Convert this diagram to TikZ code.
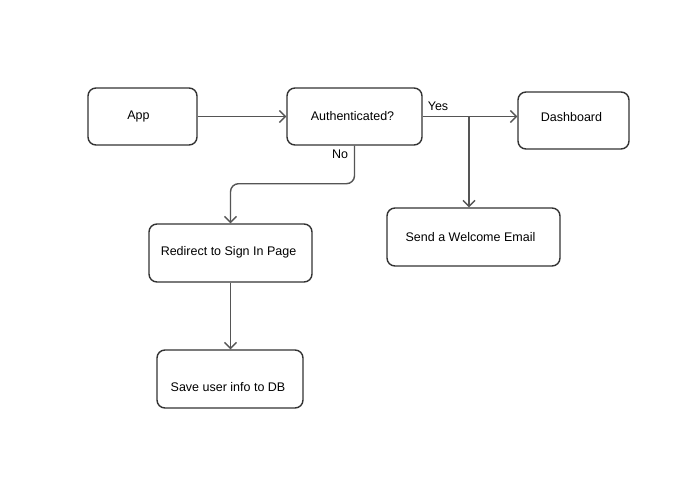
\documentclass[tikz,border=0pt]{standalone}
\usepackage{fontspec}
\setmainfont{Liberation Sans}
\usetikzlibrary{arrows.meta,calc}
\definecolor{boxline}{HTML}{333333}
\definecolor{connline}{HTML}{555555}
\begin{document}
\begin{tikzpicture}[x=1pt,y=-1pt,
  box/.style={draw=boxline, line width=1.4pt, rounded corners=8pt, fill=white,
    inner sep=0pt, font=\fontsize{12.5}{15}\selectfont, text=black},
  conn/.style={draw=connline, line width=1.4pt,
    -{Straight Barb[length=6pt,width=12pt,line width=1.4pt]}},
  lbl/.style={font=\fontsize{12.5}{15}\selectfont, text=black, inner sep=0pt}]
\useasboundingbox[fill=white] (0,0) rectangle (680,485);
\node[box, minimum width=109pt, minimum height=57pt,
  label={[lbl, xshift=-4pt, yshift=0pt]center:App}] (app) at (142.5,116.5) {};
\node[box, minimum width=135pt, minimum height=57pt,
  label={[lbl, xshift=-2pt, yshift=0.5pt]center:Authenticated?}] (auth) at (354.5,116.5) {};
\node[box, minimum width=111pt, minimum height=57pt,
  label={[lbl, xshift=-2pt, yshift=3pt]center:Dashboard}] (dash) at (573.5,120.5) {};
\node[box, minimum width=173pt, minimum height=58pt,
  label={[lbl, xshift=-3pt, yshift=0pt]center:Send a Welcome Email}] (mail) at (473.5,237) {};
\node[box, minimum width=163pt, minimum height=58pt,
  label={[lbl, xshift=-2pt, yshift=1pt]center:Redirect to Sign In Page}] (redir) at (230.5,253) {};
\node[box, minimum width=146pt, minimum height=58pt,
  label={[lbl, xshift=-2pt, yshift=-8pt]center:Save user info to DB}] (save) at (230,379) {};
\coordinate (br) at (469,116.5);
\draw[conn] (app) -- (auth);
\draw[conn] (auth.east) -- (auth.east -| dash.west);
\draw[conn] (br) -- (br |- mail.north);
\draw[conn, rounded corners=8pt] (auth.south) -- ++(0,38) -| (redir.north);
\draw[conn] (redir.south) -- (redir.south |- save.north);
\node[lbl] (yes) at (438,106) {Yes};
\node[lbl] (no) at (340,154) {No};
\end{tikzpicture}
\end{document}
